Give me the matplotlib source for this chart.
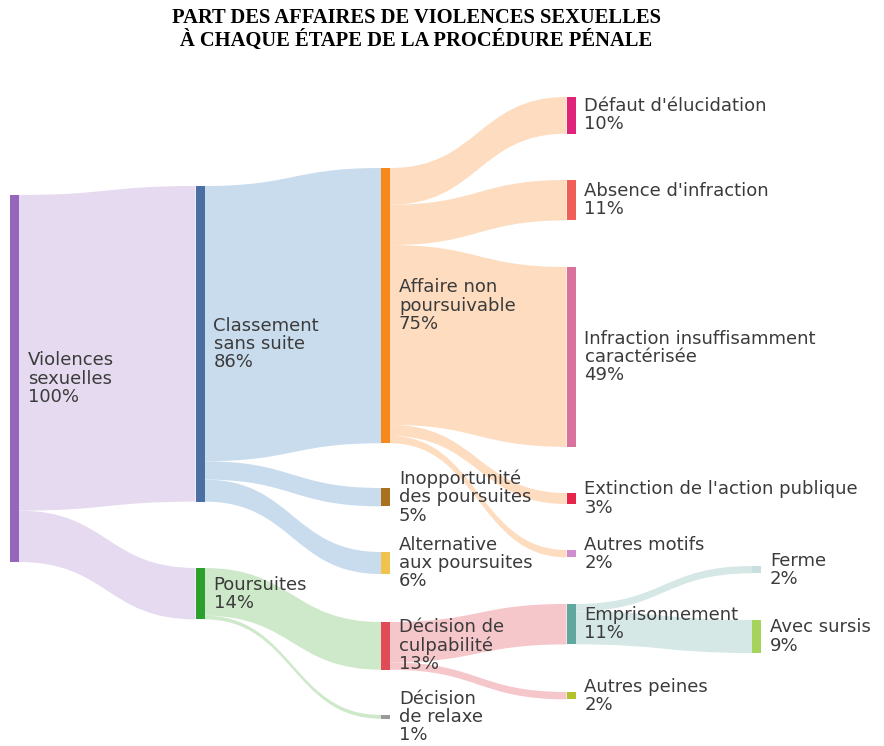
import matplotlib
matplotlib.use("Agg")
import matplotlib.pyplot as plt
from matplotlib.path import Path
from matplotlib.patches import PathPatch, Rectangle

# ---------------- data ----------------
node_names = [
    "Violences\nsexuelles", "Classement\nsans suite", "Poursuites",
    "Affaire non\npoursuivable", "Inopportunité\ndes poursuites", "Alternative\naux poursuites",
    "Décision de\nculpabilité", "Décision\nde relaxe",
    "Défaut d'élucidation", "Absence d'infraction", "Infraction insuffisamment\ncaractérisée",
    "Extinction de l'action publique", "Autres motifs", "Emprisonnement", "Autres peines",
    "Ferme", "Avec sursis",
]
node_values = [100, 86, 14, 75, 5, 6, 13, 1, 10, 11, 49, 3, 2, 11, 2, 2, 9]

link_source = [0, 0, 1, 1, 1, 3, 3, 3, 3, 3, 2, 2, 6, 6, 13, 13]
link_target = [1, 2, 3, 4, 5, 8, 9, 10, 11, 12, 6, 7, 13, 14, 15, 16]
link_values = [86, 14, 75, 5, 6, 10, 11, 49, 3, 2, 13, 1, 11, 2, 2, 9]

# ---------------- layout / style ----------------
node_column = [0, 1, 1, 2, 2, 2, 2, 2, 3, 3, 3, 3, 3, 3, 3, 4, 4]
node_top_px = [195, 186, 568, 168, 488, 552, 622, 715, 97, 180, 267, 493, 550, 604, 692, 566, 620]
node_colors = ["#9467bd", "#4c6fa3", "#2ca02c", "#f7891c", "#a8701f", "#f1c24c",
               "#e04b55", "#9a9a9a", "#df2479", "#ef5f58", "#d9739d", "#e6254b",
               "#cf8fcf", "#5fa79f", "#b2c12c", "#c9dede", "#a6d35b"]
link_colors_by_source = {0: "#e4d8ef", 1: "#c6dbee", 3: "#fddbbd", 2: "#cce8c7",
                         6: "#f5c3c7", 13: "#d3e7e5"}

W, H = 884, 746
px_per_pct = 3.67
col_x0, col_dx = 10, 185.5
bar_w = 9
label_pad = 9
text_color = "#3b3b3b"

fig = plt.figure(figsize=(W / 100, H / 100), dpi=100)
ax = fig.add_axes([0, 0, 1, 1])
ax.set_xlim(0, W)
ax.set_ylim(H, 0)
ax.axis("off")

def node_x(i):
    return col_x0 + node_column[i] * col_dx

# links
out_off = {i: 0.0 for i in range(len(node_names))}
in_off = {i: 0.0 for i in range(len(node_names))}
for s, t, v in zip(link_source, link_target, link_values):
    h = v * px_per_pct
    x0 = node_x(s) + bar_w
    x1 = node_x(t)
    y0t = node_top_px[s] + out_off[s]
    y1t = node_top_px[t] + in_off[t]
    out_off[s] += h
    in_off[t] += h
    y0b, y1b = y0t + h, y1t + h
    xm = (x0 + x1) / 2
    verts = [(x0, y0t), (xm, y0t), (xm, y1t), (x1, y1t),
             (x1, y1b), (xm, y1b), (xm, y0b), (x0, y0b), (x0, y0t)]
    codes = [Path.MOVETO, Path.CURVE4, Path.CURVE4, Path.CURVE4,
             Path.LINETO, Path.CURVE4, Path.CURVE4, Path.CURVE4, Path.CLOSEPOLY]
    ax.add_patch(PathPatch(Path(verts, codes), facecolor=link_colors_by_source[s],
                           edgecolor="none", alpha=0.95, zorder=1))

# nodes & labels
for i, (name, v) in enumerate(zip(node_names, node_values)):
    x = node_x(i)
    y = node_top_px[i]
    h = v * px_per_pct
    ax.add_patch(Rectangle((x, y), bar_w, h, facecolor=node_colors[i],
                           edgecolor="none", zorder=2))
    ax.text(x + bar_w + label_pad, y + h / 2, f"{name}\n{v}%", ha="left", va="center",
            fontsize=13, family="DejaVu Sans", color=text_color,
            linespacing=1.02, zorder=3)

ax.text(416, 29.5, "PART DES AFFAIRES DE VIOLENCES SEXUELLES\nÀ CHAQUE ÉTAPE DE LA PROCÉDURE PÉNALE",
        ha="center", va="center", fontsize=14.8, family="Liberation Serif",
        fontweight="bold", color="black", linespacing=1.15)

fig.savefig("out.png", dpi=100, facecolor="white")
